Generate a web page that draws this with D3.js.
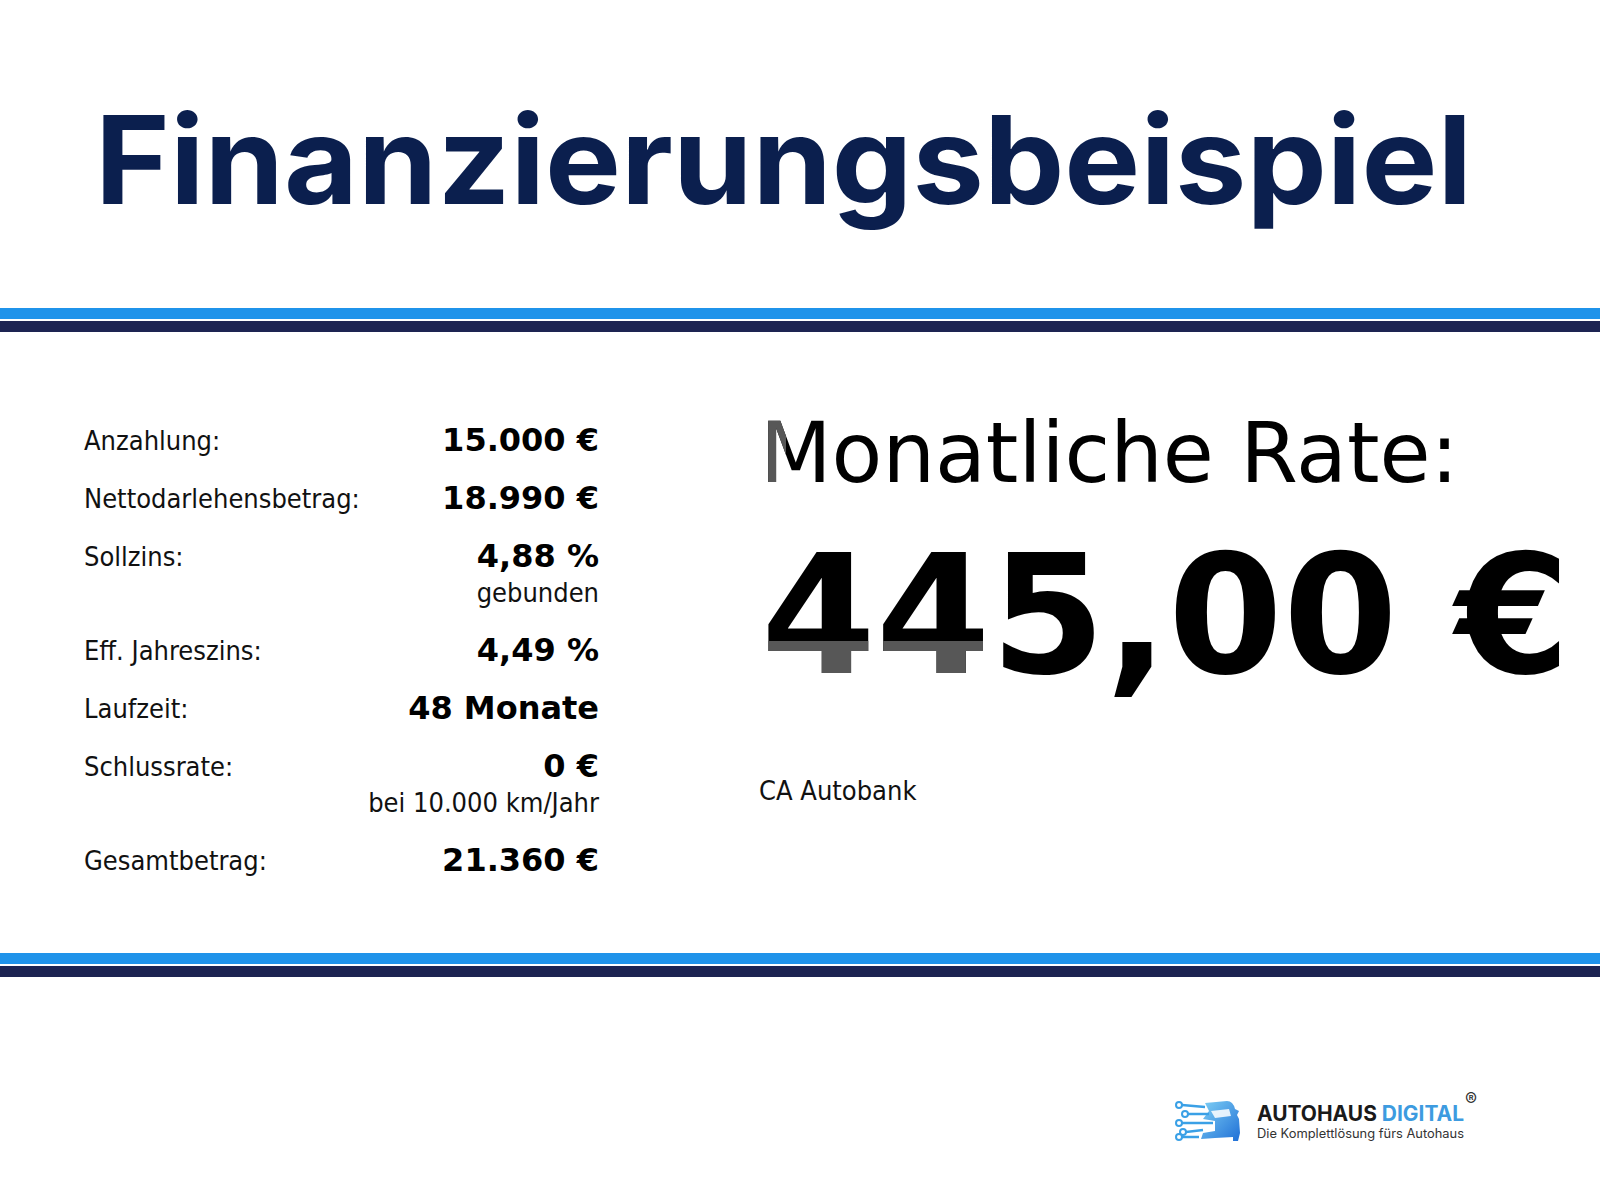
<!DOCTYPE html>
<html lang="de">
<head>
  <meta charset="UTF-8">
  <title>Finanzierungsbeispiel</title>
  <script src="https://d3js.org/d3.v7.min.js"></script>
  <style>
    body { margin: 0; background: #fff; }
    .label { font-family: "DejaVu Sans Condensed", "DejaVu Sans", sans-serif; font-stretch: condensed; font-size: 27px; fill: #111; }
    .note  { font-family: "DejaVu Sans Condensed", "DejaVu Sans", sans-serif; font-stretch: condensed; font-size: 27px; fill: #111; }
    .value { font-family: "DejaVu Sans", sans-serif; font-weight: bold; font-size: 32px; fill: #000; }
  </style>
</head>
<body>
  <svg width="1600" height="1200"></svg>

  <script>
    // table content
    const labels = ["Anzahlung:", "Nettodarlehensbetrag:", "Sollzins:", "Eff. Jahreszins:",
                    "Laufzeit:", "Schlussrate:", "Gesamtbetrag:"];
    const values = ["15.000 €", "18.990 €", "4,88 %", "4,49 %", "48 Monate", "0 €", "21.360 €"];
    const notes  = ["", "", "gebunden", "", "", "bei 10.000 km/Jahr", ""];

    const title = "Finanzierungsbeispiel";
    const rateLabel = "Monatliche Rate:";
    const rateValue = "445,00 €";
    const bank = "CA Autobank";

    const svg = d3.select("svg");
    const W = +svg.attr("width");
    const defs = svg.append("defs");

    // grey "ghost" overlay inside a region (the picture has a faint double print there)
    function ghostFilter(id, r) {
      const f = defs.append("filter").attr("id", id)
        .attr("filterUnits", "userSpaceOnUse")
        .attr("color-interpolation-filters", "sRGB")
        .attr("x", 0).attr("y", 0).attr("width", W).attr("height", 1200);
      f.append("feColorMatrix").attr("in", "SourceGraphic").attr("type", "matrix")
        .attr("x", r[0]).attr("y", r[1]).attr("width", r[2]).attr("height", r[3])
        .attr("values", "0 0 0 0 0.34  0 0 0 0 0.34  0 0 0 0 0.34  0 0 0 1 0")
        .attr("result", "grey");
      const m = f.append("feMerge");
      m.append("feMergeNode").attr("in", "SourceGraphic");
      m.append("feMergeNode").attr("in", "grey");
    }
    ghostFilter("ghostM", [758, 400, 28, 90]);
    ghostFilter("ghost44", [758, 641, 232, 40]);

    // title
    svg.append("text")
      .attr("x", 95).attr("y", 204)
      .attr("textLength", 1377).attr("lengthAdjust", "spacingAndGlyphs")
      .style("font-family", "Inter, 'Open Sans', sans-serif")
      .style("font-weight", 700)
      .style("font-size", "122px")
      .style("fill", "#0b1f4e")
      .text(title);

    // double bands (light blue over navy)
    function bands(y) {
      svg.append("rect").attr("x", 0).attr("y", y).attr("width", W).attr("height", 11).attr("fill", "#1f93ea");
      svg.append("rect").attr("x", 0).attr("y", y + 13).attr("width", W).attr("height", 11).attr("fill", "#1d2452");
    }
    bands(308);
    bands(953);

    // rows: each row is one slot, a note line adds extra
    const noteGap = 0.62;
    const slots = [];
    let s = 0;
    labels.forEach((d, i) => { slots.push(s); s += 1 + (notes[i] ? noteGap : 0); });

    const y = d3.scaleLinear().domain([0, 1]).range([450, 508]);
    const xLabel = 84, xValue = 599;

    const rows = svg.append("g").selectAll("g")
      .data(labels.map((d, i) => ({label: d, value: values[i], note: notes[i], slot: slots[i]})))
      .join("g");

    rows.append("text").attr("class", "label")
      .attr("x", xLabel).attr("y", d => y(d.slot))
      .text(d => d.label);

    rows.append("text").attr("class", "value")
      .attr("x", xValue).attr("y", d => y(d.slot) + 1)
      .attr("text-anchor", "end")
      .text(d => d.value);

    rows.filter(d => d.note).append("text").attr("class", "note")
      .attr("x", xValue).attr("y", d => y(d.slot + noteGap))
      .attr("text-anchor", "end")
      .text(d => d.note);

    // monthly rate
    svg.append("text")
      .attr("x", 760).attr("y", 482)
      .attr("filter", "url(#ghostM)")
      .style("font-family", "'DejaVu Sans', sans-serif")
      .style("font-size", "83px")
      .style("fill", "#000")
      .text(rateLabel);

    svg.append("text")
      .attr("x", 761).attr("y", 673)
      .attr("filter", "url(#ghost44)")
      .style("font-family", "'DejaVu Sans', sans-serif")
      .style("font-weight", "bold")
      .style("font-size", "165px")
      .style("fill", "#000")
      .text(rateValue);

    svg.append("text").attr("class", "note")
      .attr("x", 759).attr("y", 800)
      .text(bank);

    // logo
    const logo = svg.append("g").attr("transform", "translate(1175,1097)");
    const grad = defs.append("linearGradient")
      .attr("id", "carGrad").attr("x1", 0).attr("y1", 0).attr("x2", 1).attr("y2", 1);
    grad.append("stop").attr("offset", "0%").attr("stop-color", "#7fd0f5");
    grad.append("stop").attr("offset", "100%").attr("stop-color", "#1f6fd6");

    // car front
    logo.append("path")
      .attr("d", "M30,6 L52,4 Q58,4 60,12 L64,14 L62,18 L64,22 L65,36 L63,44 L58,44 L58,40 L40,41 L26,42 L28,36 L40,34 L40,24 L28,22 L34,14 Z")
      .attr("fill", "url(#carGrad)");
    logo.append("path")
      .attr("d", "M36,14 L54,12 L56,19 L40,21 Z")
      .attr("fill", "#fff").attr("opacity", 0.85);
    // circuit lines
    const circuit = [[4, 8, 30, 10], [10, 17, 34, 17], [4, 26, 38, 26], [8, 35, 28, 33], [4, 40, 24, 40]];
    logo.selectAll("line.c").data(circuit).join("line")
      .attr("x1", d => d[0] + 3).attr("y1", d => d[1])
      .attr("x2", d => d[2]).attr("y2", d => d[3])
      .attr("stroke", "#3aa0e6").attr("stroke-width", 2.5);
    logo.selectAll("circle").data(circuit).join("circle")
      .attr("cx", d => d[0]).attr("cy", d => d[1]).attr("r", 3)
      .attr("fill", "#fff").attr("stroke", "#3aa0e6").attr("stroke-width", 2);

    const brand = svg.append("text")
      .attr("x", 1257).attr("y", 1121)
      .attr("textLength", 207).attr("lengthAdjust", "spacingAndGlyphs")
      .style("font-family", "Inter, sans-serif").style("font-weight", 700)
      .style("font-size", "21px");
    brand.append("tspan").style("fill", "#1a1a1a").text("AUTOHAUS ");
    brand.append("tspan").style("fill", "#3d9be0").text("DIGITAL");

    svg.append("text")
      .attr("x", 1257).attr("y", 1138)
      .attr("textLength", 207).attr("lengthAdjust", "spacingAndGlyphs")
      .style("font-family", "Inter, sans-serif").style("font-size", "12.5px")
      .style("fill", "#333")
      .text("Die Komplettlösung fürs Autohaus");

    svg.append("text")
      .attr("x", 1465).attr("y", 1106)
      .style("font-family", "Inter, sans-serif").style("font-size", "18px")
      .style("fill", "#333")
      .text("®");
  </script>
</body>
</html>
